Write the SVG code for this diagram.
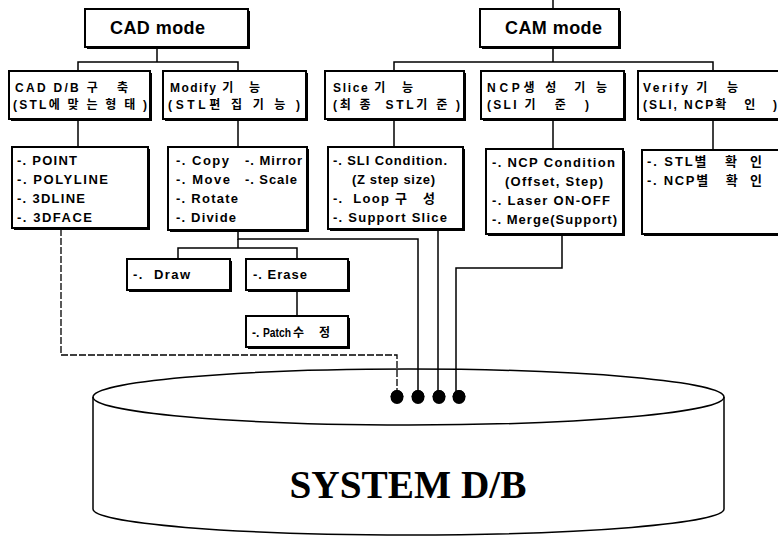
<svg xmlns="http://www.w3.org/2000/svg" width="778" height="538" viewBox="0 0 778 538">
<style>
.sh{fill:#000}
.bx{fill:#fff;stroke:#000;stroke-width:2}
.t{font-family:"Liberation Sans","Noto Sans CJK KR",sans-serif;font-weight:bold;font-size:12px;fill:#000;white-space:pre}
.l{font-size:13px}
.h{font-size:18px}
.ln{stroke:#000;stroke-width:1.5;fill:none}
.dash{stroke:#000;stroke-width:1.3;fill:none;stroke-dasharray:7 2}
.dot{fill:#000}
</style>
<rect width="778" height="538" fill="#fff"/>

<g id="connectors">
  <line class="ln" x1="553" y1="0" x2="553" y2="9"/>
  <polyline class="ln" points="157,47 157,62"/>
  <polyline class="ln" points="78,71 78,62 238,62 238,71"/>
  <polyline class="ln" points="553,47 553,62"/>
  <polyline class="ln" points="394,71 394,62 713,62 713,71"/>
  <line class="ln" x1="78" y1="119" x2="78" y2="147"/>
  <line class="ln" x1="238" y1="119" x2="238" y2="147"/>
  <line class="ln" x1="394" y1="119" x2="394" y2="147"/>
  <line class="ln" x1="553" y1="119" x2="553" y2="149"/>
  <line class="ln" x1="713" y1="119" x2="713" y2="150"/>
  <polyline class="dash" points="61,229 61,355 397,355 397,397"/>
  <polyline class="ln" points="238,230 238,239 418,239 418,397"/>
  <polyline class="ln" points="238,239 238,248"/>
  <polyline class="ln" points="178,259 178,248 297,248 297,259"/>
  <line class="ln" x1="297" y1="291" x2="297" y2="316"/>
  <line class="ln" x1="438" y1="229" x2="438" y2="397"/>
  <polyline class="ln" points="562,234 562,268 456,268 456,397"/>
  <ellipse class="dot" cx="397" cy="397" rx="6.5" ry="7"/>
  <ellipse class="dot" cx="418" cy="397" rx="6.5" ry="7"/>
  <ellipse class="dot" cx="439" cy="397" rx="6.5" ry="7"/>
  <ellipse class="dot" cx="459" cy="397" rx="6.5" ry="7"/>
</g>

<g id="cad-mode">
  <rect class="sh" x="87" y="11" width="163" height="38"/>
  <rect class="bx" x="85" y="9" width="163" height="38"/>
  <text class="t h" x="110" y="34" textLength="95">CAD mode</text>
</g>
<g id="cam-mode">
  <rect class="sh" x="482" y="11" width="139" height="38"/>
  <rect class="bx" x="480" y="9" width="139" height="38"/>
  <text class="t h" x="505" y="34" textLength="97">CAM mode</text>
</g>

<g id="cad-db">
  <rect class="sh" x="11" y="73" width="141" height="48"/>
  <rect class="bx" x="9" y="71" width="141" height="48"/>
  <text class="t" x="15" y="92" textLength="113">CAD D/B 구   축</text>
  <text class="t" x="13" y="109" textLength="134">(STL에 맞 는 형 태 )</text>
</g>
<g id="modify">
  <rect class="sh" x="165" y="73" width="143" height="48"/>
  <rect class="bx" x="163" y="71" width="143" height="48"/>
  <text class="t" x="170" y="92" textLength="90">Modify 기   능</text>
  <text class="t" x="168" y="109" textLength="132">(STL편 집 기 능 )</text>
</g>
<g id="slice">
  <rect class="sh" x="327" y="73" width="139" height="48"/>
  <rect class="bx" x="325" y="71" width="139" height="48"/>
  <text class="t" x="333" y="92" textLength="80">Slice 기   능</text>
  <text class="t" x="333" y="109" textLength="127">(최 종  STL기 준 )</text>
</g>
<g id="ncp">
  <rect class="sh" x="483" y="73" width="143" height="48"/>
  <rect class="bx" x="481" y="71" width="143" height="48"/>
  <text class="t" x="487" y="92" textLength="120">NCP생 성  기 능</text>
  <text class="t" x="487" y="109" textLength="102">(SLI 기   준   )</text>
</g>
<g id="verify">
  <rect class="sh" x="640" y="73" width="150" height="48"/>
  <rect class="bx" x="638" y="71" width="150" height="48"/>
  <text class="t" x="643" y="92" textLength="95">Verify 기   능</text>
  <text class="t" x="643" y="109" textLength="134">(SLI, NCP확   인   )</text>
</g>

<g id="cad-list">
  <rect class="sh" x="14" y="149" width="136" height="81"/>
  <rect class="bx" x="12" y="147" width="136" height="81"/>
  <text class="t l" x="17" y="165" textLength="60">-. POINT</text>
  <text class="t l" x="17" y="184" textLength="91">-. POLYLINE</text>
  <text class="t l" x="17" y="203" textLength="68">-. 3DLINE</text>
  <text class="t l" x="17" y="222" textLength="75">-. 3DFACE</text>
</g>
<g id="modify-list">
  <rect class="sh" x="170" y="149" width="139" height="83"/>
  <rect class="bx" x="168" y="147" width="139" height="83"/>
  <text class="t l" x="176" y="165" textLength="53">-. Copy</text>
  <text class="t l" x="245" y="165" textLength="57">-. Mirror</text>
  <text class="t l" x="176" y="184" textLength="54">-. Move</text>
  <text class="t l" x="245" y="184" textLength="52">-. Scale</text>
  <text class="t l" x="176" y="203" textLength="62">-. Rotate</text>
  <text class="t l" x="176" y="222" textLength="60">-. Divide</text>
</g>
<g id="slice-list">
  <rect class="sh" x="330" y="149" width="135" height="82"/>
  <rect class="bx" x="328" y="147" width="135" height="82"/>
  <text class="t l" x="333" y="165" textLength="114">-. SLI Condition.</text>
  <text class="t l" x="352" y="184" textLength="83">(Z step size)</text>
  <text class="t l" x="333" y="203" textLength="102">-.  Loop 구   성</text>
  <text class="t l" x="333" y="222" textLength="114">-. Support Slice</text>
</g>
<g id="ncp-list">
  <rect class="sh" x="488" y="151" width="137" height="85"/>
  <rect class="bx" x="486" y="149" width="137" height="85"/>
  <text class="t l" x="492" y="167" textLength="123">-. NCP Condition</text>
  <text class="t l" x="505" y="186" textLength="98">(Offset, Step)</text>
  <text class="t l" x="492" y="205" textLength="118">-. Laser ON-OFF</text>
  <text class="t l" x="492" y="224" textLength="125">-. Merge(Support)</text>
</g>
<g id="verify-list">
  <rect class="sh" x="644" y="152" width="148" height="84"/>
  <rect class="bx" x="642" y="150" width="148" height="84"/>
  <text class="t l" x="647" y="166" textLength="115">-. STL별   확  인</text>
  <text class="t l" x="647" y="185" textLength="115">-. NCP별   확  인</text>
</g>

<g id="draw">
  <rect class="sh" x="129" y="261" width="103" height="31"/>
  <rect class="bx" x="127" y="259" width="103" height="31"/>
  <text class="t l" x="133" y="279" textLength="57">-.  Draw</text>
</g>
<g id="erase">
  <rect class="sh" x="248" y="261" width="102" height="31"/>
  <rect class="bx" x="246" y="259" width="102" height="31"/>
  <text class="t l" x="253" y="279" textLength="54">-. Erase</text>
</g>
<g id="patch">
  <rect class="sh" x="248" y="318" width="102" height="31"/>
  <rect class="bx" x="246" y="316" width="102" height="31"/>
  <text class="t" x="252" y="337">-.<tspan x="263" textLength="28" lengthAdjust="spacingAndGlyphs">Patch</tspan><tspan x="293" textLength="37">수  정</tspan></text>
</g>

<g id="system-db">
  <path d="M93,397 L93,509 A315.5,26 0 0 0 724,509 L724,397" fill="#fff" stroke="#000" stroke-width="1.5"/>
  <ellipse cx="408.5" cy="397" rx="315.5" ry="28" fill="none" stroke="#000" stroke-width="1.5"/>
  <text x="408" y="498" text-anchor="middle" font-family="'Liberation Serif',serif" font-weight="bold" font-size="40" textLength="237" lengthAdjust="spacingAndGlyphs">SYSTEM D/B</text>
</g>
<g id="dots-front">
  <ellipse class="dot" cx="397" cy="397" rx="6.5" ry="7"/>
  <ellipse class="dot" cx="418" cy="397" rx="6.5" ry="7"/>
  <ellipse class="dot" cx="439" cy="397" rx="6.5" ry="7"/>
  <ellipse class="dot" cx="459" cy="397" rx="6.5" ry="7"/>
</g>
</svg>
